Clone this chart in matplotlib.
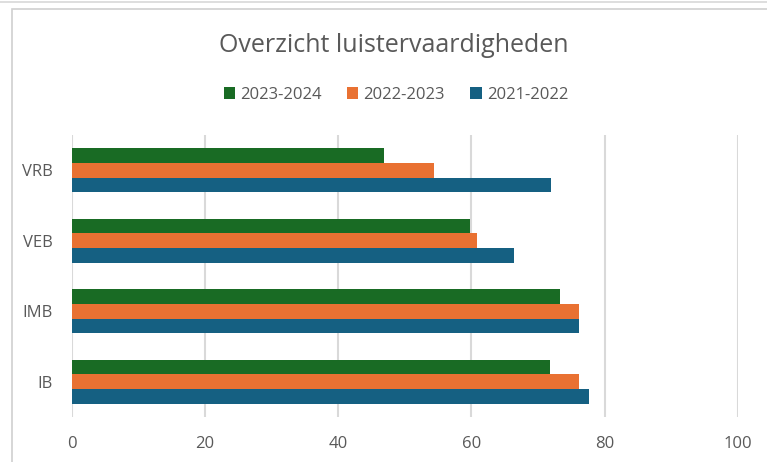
import numpy as np
import matplotlib
matplotlib.use("Agg")
import matplotlib.pyplot as plt
from matplotlib.patches import Rectangle

plt.rcParams['font.family'] = ['Open Sans', 'DejaVu Sans']

categories = ['IB', 'IMB', 'VEB', 'VRB']
series = ['2021-2022', '2022-2023', '2023-2024']
vals_2122 = [77.6, 76.2, 66.4, 72.0]
vals_2223 = [76.2, 76.2, 60.9, 54.4]
vals_2324 = [71.8, 73.3, 59.8, 46.9]
colors = ['#156082', '#E97132', '#196B24']
xticks = [0, 20, 40, 60, 80, 100]

fig = plt.figure(figsize=(7.67, 4.62), dpi=100)
ax = fig.add_axes([0.0939, 0.0974, 0.8679, 0.6104])

# frame of the chart area, like a screenshot from Excel
fig.patches.append(Rectangle((12 / 767, -0.1), 2, (462 - 9) / 462 + 0.1,
                             transform=fig.transFigure, fill=False,
                             edgecolor='#D0D0D0', linewidth=1.2))
fig.add_artist(plt.Line2D([0, 1], [1 - 2 / 462, 1 - 2 / 462],
                          transform=fig.transFigure, color='#D8D8D8', lw=1.2))

y = np.arange(len(categories))
h = 0.208
allvals = [vals_2122, vals_2223, vals_2324]
handles = []
for i, (vals, c, lab) in enumerate(zip(allvals, colors, series)):
    b = ax.barh(y + (i - 1) * h, vals, height=h, color=c, label=lab, zorder=3)
    handles.append(b)

ax.set_xlim(0, 100)
ax.set_ylim(-0.5, len(categories) - 0.5)
ax.set_xticks(xticks)
ax.set_yticks(y)
ax.set_yticklabels(categories)
ax.grid(axis='x', color='#D9D9D9', linewidth=1.5, zorder=0)
for s in ax.spines.values():
    s.set_visible(False)
ax.tick_params(length=0, labelsize=12, labelcolor='#595959')
ax.tick_params(axis='x', pad=14)
ax.tick_params(axis='y', pad=14)

fig.text(0.513, 1 - 46 / 462, 'Overzicht luistervaardigheden', ha='center', va='center',
         fontsize=18, color='#595959')
fig.legend(handles[::-1], series[::-1], loc='center', bbox_to_anchor=(0.516, 1 - 95 / 462),
           ncol=3, frameon=False, fontsize=12, labelcolor='#595959',
           handlelength=0.7, handleheight=0.7, handletextpad=0.3, columnspacing=1.5)

fig.savefig('out.png', dpi=100)
